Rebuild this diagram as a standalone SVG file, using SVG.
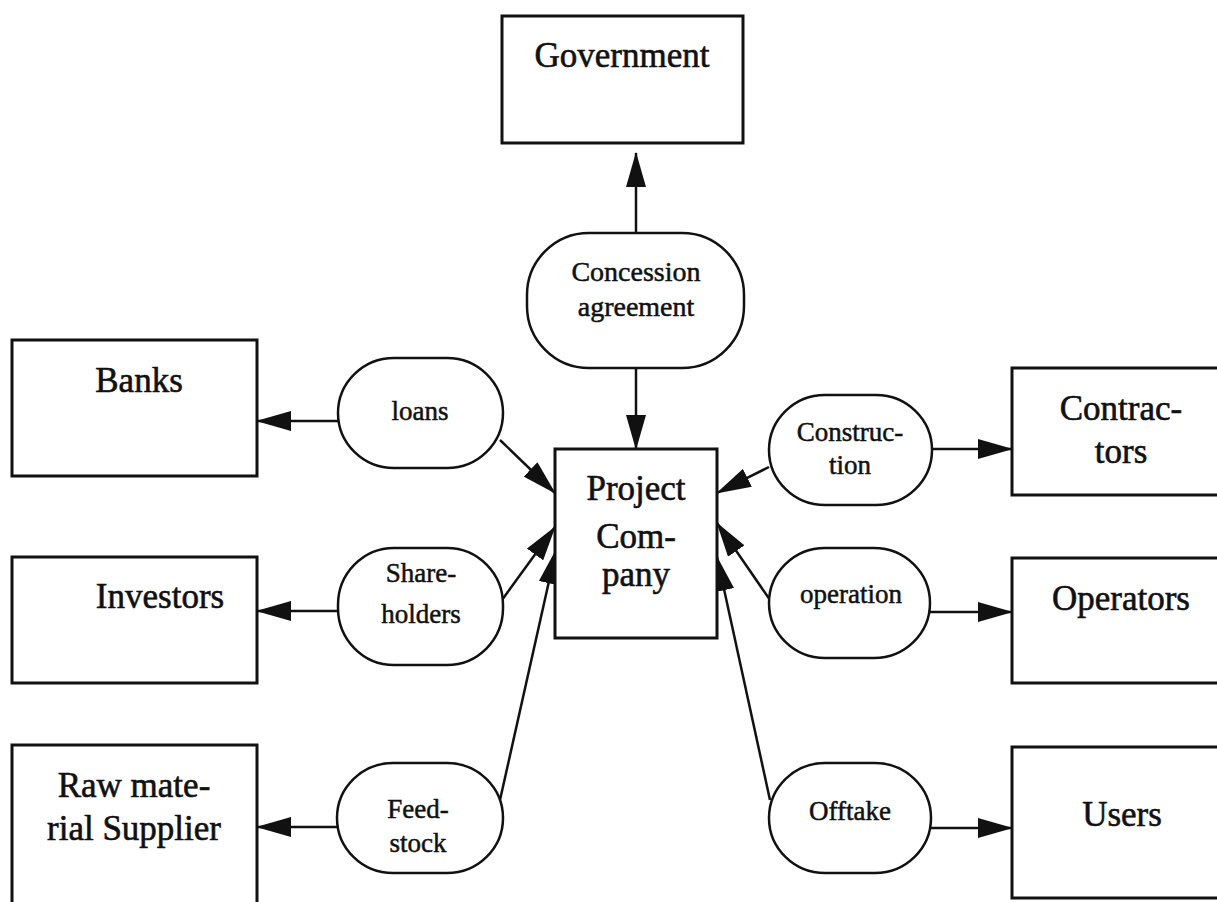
<svg xmlns="http://www.w3.org/2000/svg" width="1217" height="902" viewBox="0 0 1217 902">
<style>
.box{fill:#fff;stroke:#111;stroke-width:3}
.pill{fill:#fff;stroke:#111;stroke-width:2.5}
.big{font-family:"Liberation Serif","Times New Roman",serif;font-size:35px;fill:#111;stroke:#111;stroke-width:0.6;text-anchor:middle}
.sm{font-family:"Liberation Serif","Times New Roman",serif;font-size:27px;fill:#111;stroke:#111;stroke-width:0.5;text-anchor:middle}
.conn{stroke:#111;stroke-width:2.5;fill:none;marker-end:url(#ah)}
</style>
<defs>
<marker id="ah" markerUnits="userSpaceOnUse" markerWidth="35" markerHeight="20" refX="34" refY="10" orient="auto">
<path d="M0,0 L35,10 L0,20 z" fill="#111"/>
</marker>
</defs>
<rect width="1217" height="902" fill="#fff"/>
<g id="connectors">
<line class="conn" x1="636" y1="233" x2="636" y2="153"/>
<line class="conn" x1="636" y1="368" x2="636" y2="449"/>
<line class="conn" x1="338" y1="421" x2="257" y2="421"/>
<line class="conn" x1="338" y1="611" x2="257" y2="611"/>
<line class="conn" x1="337" y1="827" x2="257" y2="827"/>
<line class="conn" x1="500" y1="440" x2="555" y2="493"/>
<line class="conn" x1="502" y1="600" x2="555" y2="527"/>
<line class="conn" x1="500" y1="800" x2="556" y2="550"/>
<line class="conn" x1="769" y1="467" x2="717" y2="493"/>
<line class="conn" x1="770" y1="600" x2="717" y2="523"/>
<line class="conn" x1="770" y1="800" x2="717" y2="557"/>
<line class="conn" x1="932" y1="449" x2="1012" y2="449"/>
<line class="conn" x1="930" y1="612" x2="1012" y2="612"/>
<line class="conn" x1="931" y1="828" x2="1012" y2="828"/>
</g>
<g id="government">
<rect class="box" x="502" y="16" width="241" height="127"/>
<text class="big" x="622" y="67">Government</text>
</g>
<g id="concession">
<rect class="pill" x="527" y="233" width="217" height="135" rx="62" ry="62"/>
<text class="sm" x="636" y="281" style="font-size:28px">Concession</text>
<text class="sm" x="636" y="316" style="font-size:28px">agreement</text>
</g>
<g id="project-company">
<rect class="box" x="555" y="449" width="162" height="189"/>
<text class="big" x="636" y="500">Project</text>
<text class="big" x="636" y="548">Com-</text>
<text class="big" x="636" y="586">pany</text>
</g>
<g id="banks">
<rect class="box" x="12" y="340" width="245" height="136"/>
<text class="big" x="139" y="392">Banks</text>
</g>
<g id="investors">
<rect class="box" x="12" y="557" width="245" height="126"/>
<text class="big" x="160" y="608">Investors</text>
</g>
<g id="raw-material-supplier">
<rect class="box" x="12" y="745" width="245" height="170"/>
<text class="big" x="134" y="797">Raw mate-</text>
<text class="big" x="134" y="840">rial Supplier</text>
</g>
<g id="loans">
<rect class="pill" x="338" y="358" width="165" height="110" rx="56" ry="55"/>
<text class="sm" x="420" y="420">loans</text>
</g>
<g id="shareholders">
<rect class="pill" x="338" y="548" width="165" height="117" rx="56" ry="57"/>
<text class="sm" x="421" y="582">Share-</text>
<text class="sm" x="421" y="623">holders</text>
</g>
<g id="feedstock">
<rect class="pill" x="337" y="763" width="166" height="110" rx="56" ry="55"/>
<text class="sm" x="418" y="818">Feed-</text>
<text class="sm" x="418" y="852">stock</text>
</g>
<g id="construction">
<rect class="pill" x="769" y="395" width="163" height="110" rx="56" ry="55"/>
<text class="sm" x="850" y="441">Construc-</text>
<text class="sm" x="850" y="474">tion</text>
</g>
<g id="operation">
<rect class="pill" x="769" y="548" width="161" height="110" rx="56" ry="55"/>
<text class="sm" x="851" y="603">operation</text>
</g>
<g id="offtake">
<rect class="pill" x="769" y="763" width="162" height="110" rx="56" ry="55"/>
<text class="sm" x="850" y="820">Offtake</text>
</g>
<g id="contractors">
<rect class="box" x="1012" y="368" width="220" height="127"/>
<text class="big" x="1121" y="420">Contrac-</text>
<text class="big" x="1121" y="463">tors</text>
</g>
<g id="operators">
<rect class="box" x="1012" y="558" width="220" height="125"/>
<text class="big" x="1121" y="610">Operators</text>
</g>
<g id="users">
<rect class="box" x="1012" y="747" width="220" height="151"/>
<text class="big" x="1122" y="826">Users</text>
</g>
</svg>
